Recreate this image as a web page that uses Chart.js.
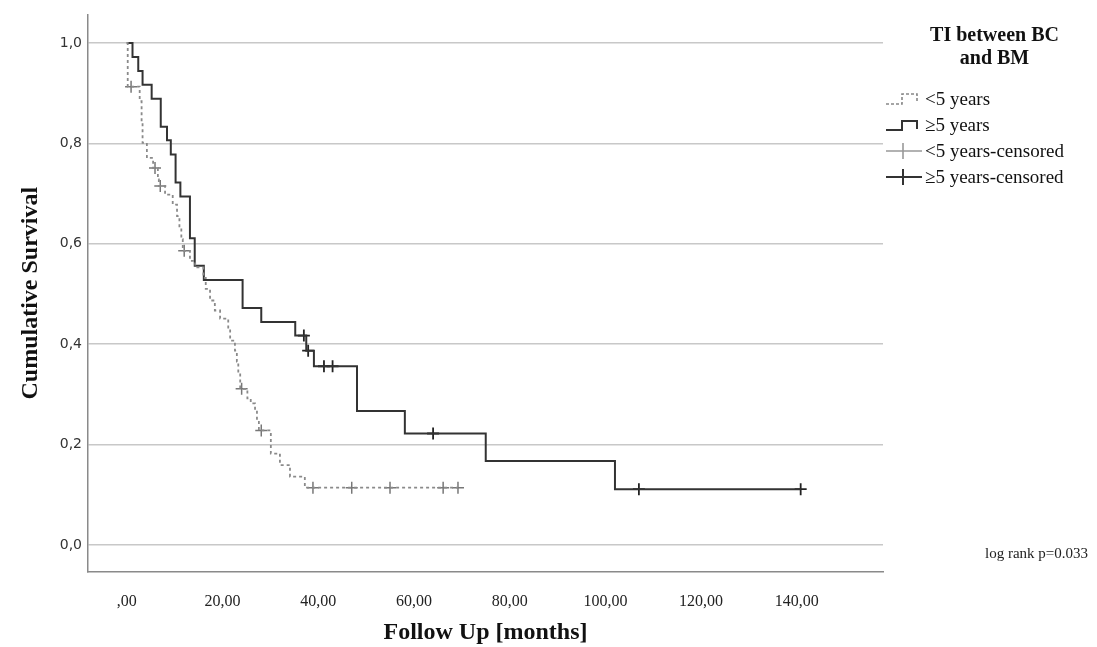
<!DOCTYPE html>
<html>
<head>
<meta charset="utf-8">
<script src="https://cdn.jsdelivr.net/npm/chart.js@4.4.1/dist/chart.umd.min.js"></script>
<style>
  body { margin: 0; background: #fff; }
  #wrap { position: relative; width: 1097px; height: 647px; }
  #legend { position: absolute; left: 884px; top: 23px; width: 213px; font-family: "Liberation Serif", serif; color: #111; }
  #legend .title { font-weight: bold; font-size: 20px; text-align: center; line-height: 23px; margin-left: 8px; }
  #legend .item { display: flex; align-items: center; height: 26px; font-size: 19px; white-space: nowrap; }
  #legend svg { width: 40px; height: 22px; flex: none; margin-right: 1px; }
  #logrank { position: absolute; left: 985px; top: 545px; font-family: "Liberation Serif", serif; font-size: 15px; color: #222; white-space: nowrap; }
</style>
</head>
<body>
<div id="wrap">
  <canvas id="km"></canvas>
  <div id="legend">
    <div class="title">TI between BC<br>and BM</div>
    <div style="height:17px"></div>
    <div class="item"><svg viewBox="0 0 40 22"><path d="M2 16 H18 V6 H33 V15" fill="none" stroke="#888" stroke-width="1.6" stroke-dasharray="3,2"/></svg>&lt;5 years</div>
    <div class="item"><svg viewBox="0 0 40 22"><path d="M2 16 H18 V7 H33 V15" fill="none" stroke="#333" stroke-width="2"/></svg>≥5 years</div>
    <div class="item"><svg viewBox="0 0 40 22"><path d="M2 11 H38 M19 3 V19" fill="none" stroke="#999" stroke-width="1.6"/></svg>&lt;5 years-censored</div>
    <div class="item"><svg viewBox="0 0 40 22"><path d="M2 11 H38 M19 3 V19" fill="none" stroke="#333" stroke-width="2"/></svg>≥5 years-censored</div>
  </div>
  <div id="logrank">log rank p=0.033</div>
</div>
<script>
// <5 years group (step times in months, survival after each step)
var lt5Times = [0, 0.2, 2.7, 3.1, 3.3, 4.2, 5.5, 6.5, 6.7, 8.0, 9.6, 10.5, 11.0, 11.4, 11.7, 13.2, 14.3, 16.0, 16.5, 17.4, 18.4, 19.5, 21.2, 21.6, 22.6, 23.0, 23.3, 23.7, 25.2, 25.9, 26.8, 27.2, 27.6, 30.1, 32.0, 34.1, 37.2, 69.2];
var lt5Surv  = [1.0, 0.913, 0.884, 0.844, 0.801, 0.771, 0.751, 0.728, 0.715, 0.698, 0.678, 0.655, 0.632, 0.609, 0.586, 0.566, 0.553, 0.532, 0.510, 0.487, 0.467, 0.451, 0.430, 0.407, 0.387, 0.365, 0.343, 0.311, 0.292, 0.282, 0.268, 0.248, 0.228, 0.182, 0.159, 0.136, 0.114, 0.114];
var lt5CensorTimes = [0.9, 5.9, 7.0, 12.0, 24.0, 28.1, 38.9, 47.0, 55.0, 66.1, 69.2];
var lt5CensorSurv  = [0.913, 0.751, 0.715, 0.586, 0.311, 0.228, 0.114, 0.114, 0.114, 0.114, 0.114];

// >=5 years group
var ge5Times = [0, 1.2, 2.4, 3.3, 5.2, 7.1, 8.4, 9.2, 10.2, 11.2, 13.2, 14.2, 16.1, 24.2, 28.1, 35.2, 37.5, 39.1, 48.1, 58.1, 75.0, 102.0, 140.8];
var ge5Surv  = [1.0, 0.972, 0.944, 0.917, 0.889, 0.833, 0.806, 0.778, 0.722, 0.694, 0.611, 0.556, 0.528, 0.472, 0.444, 0.417, 0.387, 0.356, 0.267, 0.222, 0.167, 0.111, 0.111];
var ge5CensorTimes = [37.0, 37.9, 41.2, 43.0, 64.0, 107.0, 140.8];
var ge5CensorSurv  = [0.417, 0.387, 0.356, 0.356, 0.222, 0.111, 0.111];

var xTicks = [0, 20, 40, 60, 80, 100, 120, 140];
var yTicks = [0, 0.2, 0.4, 0.6, 0.8, 1.0];

function pts(xs, ys) {
  return xs.map(function (x, i) { return { x: x, y: ys[i] }; });
}

new Chart(document.getElementById('km'), {
  type: 'line',
  data: {
    datasets: [
      {
        label: '<5 years',
        data: pts(lt5Times, lt5Surv),
        stepped: 'before',
        borderColor: '#8a8a8a',
        borderWidth: 1.8,
        borderDash: [3, 3],
        pointRadius: 0
      },
      {
        label: '≥5 years',
        data: pts(ge5Times, ge5Surv),
        stepped: 'before',
        borderColor: '#333',
        borderWidth: 2,
        pointRadius: 0
      },
      {
        label: '<5 years-censored',
        data: pts(lt5CensorTimes, lt5CensorSurv),
        showLine: false,
        pointStyle: 'cross',
        pointRadius: 6,
        pointBorderWidth: 1.5,
        borderColor: '#777'
      },
      {
        label: '≥5 years-censored',
        data: pts(ge5CensorTimes, ge5CensorSurv),
        showLine: false,
        pointStyle: 'cross',
        pointRadius: 6,
        pointBorderWidth: 1.8,
        borderColor: '#222'
      }
    ]
  },
  options: {
    responsive: true,
    maintainAspectRatio: false,
    animation: false,
    layout: { padding: { left: 0, right: 214, top: 13, bottom: 0 } },
    plugins: {
      legend: { display: false },
      tooltip: { enabled: false }
    },
    scales: {
      x: {
        type: 'linear',
        min: -8.1,
        max: 158,
        afterBuildTicks: function (scale) {
          scale.ticks = xTicks.map(function (v) { return { value: v }; });
        },
        afterFit: function (scale) { scale.height = 75; },
        grid: { drawOnChartArea: false, drawTicks: false },
        border: { color: '#8a8a8a', width: 1.5 },
        ticks: {
          padding: 20,
          maxRotation: 0,
          color: '#222',
          font: { family: 'Liberation Serif', size: 16 },
          callback: function (v) { return v === 0 ? ',00' : v.toFixed(2).replace('.', ','); }
        },
        title: {
          display: true,
          text: 'Follow Up [months]',
          color: '#111',
          padding: { top: 0, bottom: 0 },
          font: { family: 'Liberation Serif', size: 24, weight: 'bold' }
        }
      },
      y: {
        min: -0.054,
        max: 1.057,
        afterBuildTicks: function (scale) {
          scale.ticks = yTicks.map(function (v) { return { value: v }; });
        },
        afterFit: function (scale) { scale.width = 88; },
        grid: { color: '#c8c8c8', lineWidth: 1.5, drawTicks: false },
        border: { color: '#8a8a8a', width: 1.5 },
        ticks: {
          padding: 6,
          color: '#333',
          font: { family: 'DejaVu Sans', size: 14 },
          callback: function (v) { return v.toFixed(1).replace('.', ','); }
        },
        title: {
          display: true,
          text: 'Cumulative Survival',
          color: '#111',
          padding: { top: 16, bottom: 0 },
          font: { family: 'Liberation Serif', size: 24, weight: 'bold' }
        }
      }
    }
  }
});
</script>
</body>
</html>
